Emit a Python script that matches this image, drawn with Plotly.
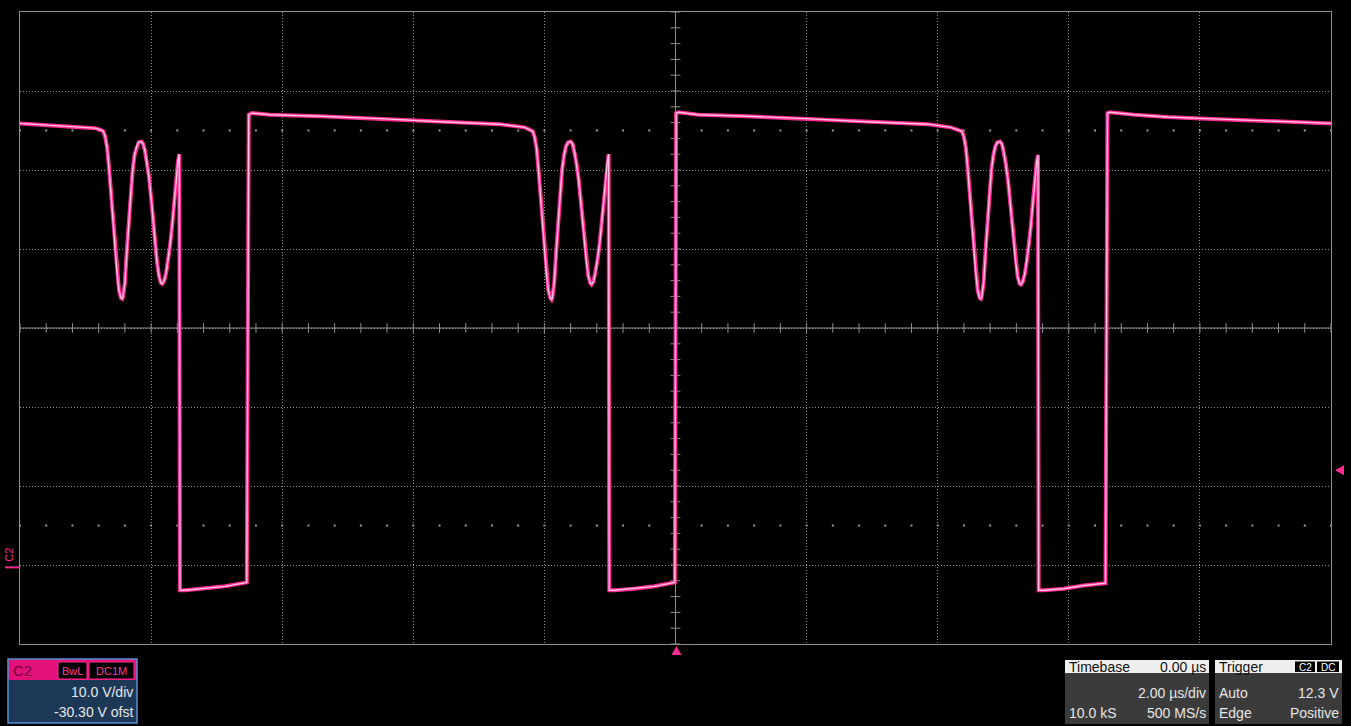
import numpy as np
import plotly.graph_objects as go

# ---------------- data (time in µs, voltage in V) ----------------
t_cycle1 = [-10.00, -9.62, -9.24, -8.86,
            -8.78, -8.73, -8.70, -8.67, -8.64, -8.61, -8.58, -8.55, -8.52, -8.49,
            -8.46, -8.44, -8.43, -8.40, -8.37, -8.34, -8.31, -8.28, -8.25, -8.22,
            -8.19, -8.15, -8.12, -8.09, -8.06, -8.03, -8.00, -7.97, -7.94, -7.91,
            -7.88, -7.85, -7.83, -7.80, -7.77, -7.74, -7.71, -7.68, -7.65, -7.62,
            -7.59, -7.57,
            -7.56, -7.48, -7.18, -6.87, -6.54,
            -6.51, -6.46, -6.19, -5.42, -4.51, -3.59, -2.68, -2.30]
v_cycle1 = [56.2, 56.0, 55.8, 55.6,
            55.4, 55.2, 54.5, 53.1, 50.4, 47.2, 43.8, 40.2, 37.3, 35.1,
            34.1, 34.0, 34.2, 36.0, 40.2, 43.8, 47.2, 50.4, 52.3, 53.3,
            53.8, 53.9, 53.6, 52.6, 51.2, 49.3, 46.8, 43.8, 41.1, 38.7,
            36.9, 36.0, 35.9, 36.3, 37.3, 38.9, 40.8, 43.2, 46.2, 49.1,
            51.4, 52.3,
            -2.9, -2.9, -2.7, -2.4, -1.9,
            57.3, 57.5, 57.3, 57.1, 56.8, 56.4, 56.1, 55.7]

t_cycle2 = [-2.23, -2.18, -2.15, -2.12, -2.09, -2.06, -2.03, -2.00, -1.97, -1.94,
            -1.91, -1.89, -1.88, -1.85, -1.82, -1.79, -1.76, -1.73, -1.70, -1.67,
            -1.64, -1.60, -1.57, -1.54, -1.51, -1.48, -1.45, -1.42, -1.39, -1.36,
            -1.33, -1.30, -1.28, -1.25, -1.22, -1.19, -1.16, -1.13, -1.10, -1.07,
            -1.04, -1.02,
            -1.01, -0.93, -0.63, -0.32, -0.01,
            0.01, 0.05, 0.35, 1.10, 2.00, 2.90, 3.85, 4.20]
v_cycle2 = [55.4, 55.2, 54.5, 53.1, 50.4, 47.2, 43.8, 40.2, 37.3, 35.1,
            34.1, 33.9, 34.1, 36.0, 40.0, 43.6, 47.0, 50.3, 52.2, 53.3,
            53.8, 53.9, 53.6, 52.6, 51.2, 49.3, 46.8, 43.8, 41.1, 38.7,
            36.9, 36.0, 35.8, 36.2, 37.3, 38.9, 40.8, 43.2, 46.2, 49.1,
            51.4, 52.3,
            -2.9, -2.9, -2.7, -2.4, -1.9,
            57.5, 57.6, 57.3, 57.1, 56.8, 56.4, 56.1, 55.7]

t_cycle3 = [4.32, 4.37, 4.40, 4.43, 4.46, 4.49, 4.52, 4.55, 4.58, 4.61,
            4.64, 4.66, 4.67, 4.70, 4.73, 4.76, 4.79, 4.82, 4.85, 4.88,
            4.91, 4.95, 4.98, 5.01, 5.04, 5.07, 5.10, 5.13, 5.16, 5.19,
            5.22, 5.25, 5.27, 5.30, 5.33, 5.36, 5.39, 5.42, 5.45, 5.48,
            5.51, 5.53,
            5.54, 5.62, 5.92, 6.23, 6.56,
            6.59, 6.63, 7.00, 7.50, 8.10, 8.80, 9.40, 10.00]
v_cycle3 = [55.4, 55.2, 54.5, 53.1, 50.4, 47.2, 43.8, 40.2, 37.3, 35.1,
            34.1, 34.0, 34.2, 36.0, 40.1, 43.7, 47.1, 50.3, 52.2, 53.3,
            53.8, 53.9, 53.6, 52.6, 51.1, 49.2, 46.7, 43.7, 41.0, 38.6,
            36.8, 35.9, 35.8, 36.2, 37.2, 38.8, 40.7, 43.1, 46.1, 49.0,
            51.3, 52.2,
            -2.9, -2.9, -2.7, -2.3, -2.0,
            57.5, 57.6, 57.3, 57.0, 56.8, 56.6, 56.4, 56.2]

time_us = t_cycle1 + t_cycle2 + t_cycle3
volts = v_cycle1 + v_cycle2 + v_cycle3

volts_per_div = 10.0
offset_v = -30.30
us_per_div = 2.0
trigger_level_v = 12.3
trigger_time_us = 0.0

# ---------------- layout geometry ----------------
W, H = 1351, 726
ML, MR, MT, MB = 20, 20, 12, 82
PW, PH = W - ML - MR, H - MT - MB

def X(px):
    return (px - ML) / PW

def Y(py):
    return (H - MB - py) / PH

center_v = -offset_v
y_lo = center_v - 4 * volts_per_div
y_hi = center_v + 4 * volts_per_div
x_lo, x_hi = -5 * us_per_div, 5 * us_per_div

# pixel helpers for data -> screen (used only to place the trigger glyphs)
def xpix(t):
    return ML + (t - x_lo) / (x_hi - x_lo) * PW

def ypix(v):
    return MT + (y_hi - v) / (y_hi - y_lo) * PH

GRID = '#8e8e8e'
PINK = '#ff2a90'
FONT = 'Liberation Sans, Arial, sans-serif'

fig = go.Figure()

# minor ticks on center cross
xt = np.arange(x_lo, x_hi + 1e-6, us_per_div / 5)
yt = np.arange(y_lo, y_hi + 1e-6, volts_per_div / 5)
fig.add_trace(go.Scatter(x=xt, y=[center_v] * len(xt), mode='markers',
                         marker=dict(symbol='line-ns', size=7, line=dict(width=1, color=GRID)),
                         hoverinfo='skip'))
fig.add_trace(go.Scatter(x=[trigger_time_us] * len(yt), y=yt, mode='markers',
                         marker=dict(symbol='line-ew', size=7, line=dict(width=1, color=GRID)),
                         hoverinfo='skip'))
# dotted rows at +/- 2.5 div
for yy in (center_v + 2.5 * volts_per_div, center_v - 2.5 * volts_per_div):
    fig.add_trace(go.Scatter(x=xt, y=[yy] * len(xt), mode='markers',
                             marker=dict(symbol='square', size=2, color='#9a9a9a'),
                             hoverinfo='skip'))

# waveform: pink glow + light core
fig.add_trace(go.Scatter(x=time_us, y=volts, mode='lines',
                         line=dict(color=PINK, width=4), hoverinfo='skip'))
fig.add_trace(go.Scatter(x=time_us, y=volts, mode='lines',
                         line=dict(color='#ffc2e0', width=1.4), hoverinfo='skip'))

shapes = []
# center cross lines
shapes.append(dict(type='line', xref='x', yref='y', x0=x_lo, x1=x_hi, y0=center_v, y1=center_v,
                   line=dict(color=GRID, width=1), layer='below'))
shapes.append(dict(type='line', xref='x', yref='y', x0=trigger_time_us, x1=trigger_time_us, y0=y_lo, y1=y_hi,
                   line=dict(color=GRID, width=1), layer='below'))

def tri_path(pts):
    return 'M ' + ' L '.join(f'{X(px):.6f},{Y(py):.6f}' for px, py in pts) + ' Z'

# trigger time marker (below the grid) and trigger level marker (right of the grid)
tx = xpix(trigger_time_us) + 1
shapes.append(dict(type='path', xref='paper', yref='paper',
                   path=tri_path([(tx, 646), (tx + 5, 655), (tx - 5, 655)]),
                   fillcolor=PINK, line=dict(width=0)))
ty = ypix(trigger_level_v)
shapes.append(dict(type='path', xref='paper', yref='paper',
                   path=tri_path([(1335, ty), (1344, ty - 5), (1344, ty + 5)]),
                   fillcolor=PINK, line=dict(width=0)))

def rect(x0, x1, y0, y1, fill, line=None, lw=0):
    return dict(type='rect', xref='paper', yref='paper', x0=X(x0), x1=X(x1), y0=Y(y1), y1=Y(y0),
                fillcolor=fill, line=dict(width=lw, color=line if line else fill))

# C2 channel box
shapes.append(rect(8, 137, 680, 723, '#1d3857'))
shapes.append(rect(8, 137, 659, 680, '#e3127a'))
shapes.append(rect(58, 87, 662, 679, '#000000', PINK, 1))
shapes.append(rect(89, 134, 662, 679, '#000000', PINK, 1))
shapes.append(dict(type='rect', xref='paper', yref='paper', x0=X(8), x1=X(137), y0=Y(723), y1=Y(659),
                   fillcolor='rgba(0,0,0,0)', line=dict(width=1.5, color='#5a90d0')))
# Timebase box
shapes.append(rect(1065, 1209, 673, 724, '#3b3b3b'))
shapes.append(rect(1065, 1209, 660, 673, '#efefef'))
# Trigger box
shapes.append(rect(1215, 1342, 673, 724, '#3b3b3b'))
shapes.append(rect(1215, 1342, 660, 673, '#efefef'))
shapes.append(rect(1295, 1315, 661.5, 672, '#000000', '#000000', 0))
shapes.append(rect(1317, 1339, 661.5, 672, '#000000', '#000000', 0))

ann = []
def txt(s, px, py, anchor='left', size=14, color='#e6e6e6'):
    ann.append(dict(text=s, xref='paper', yref='paper', x=X(px), y=Y(py), xanchor=anchor,
                    yanchor='middle', showarrow=False, font=dict(family=FONT, size=size, color=color)))

txt('C2', 11, 670, 'left', 15, '#7a0038')
txt('BwL', 72.5, 670.5, 'center', 11, '#ff3a95')
txt('DC1M', 111.5, 670.5, 'center', 11, '#ff3a95')
txt(f'{volts_per_div:.1f} V/div', 135, 692, 'right', 14)
txt(f'{offset_v:.2f} V ofst', 135, 712, 'right', 14)

txt('Timebase', 1067, 667, 'left', 14, '#111111')
txt('0.00 µs', 1208, 667, 'right', 14, '#111111')
txt(f'{us_per_div:.2f} µs/div', 1208, 693, 'right', 14)
txt('10.0 kS', 1067, 713, 'left', 14)
txt('500 MS/s', 1208, 713, 'right', 14)

txt('Trigger', 1217, 667, 'left', 14, '#111111')
txt('C2', 1305, 667, 'center', 10, '#ffffff')
txt('DC', 1328, 667, 'center', 10, '#ffffff')
txt('Auto', 1217, 693, 'left', 14)
txt(f'{trigger_level_v:.1f} V', 1341, 693, 'right', 14)
txt('Edge', 1217, 713, 'left', 14)
txt('Positive', 1341, 713, 'right', 14)

# channel ground marker on the left
ann.append(dict(text='C2', xref='paper', yref='y', x=X(9), y=1.6, xanchor='center', yanchor='middle',
                textangle=-90, showarrow=False, font=dict(family=FONT, size=11, color=PINK)))
shapes.append(dict(type='line', xref='paper', yref='y', x0=X(5), x1=X(19), y0=0, y1=0,
                   line=dict(color=PINK, width=2)))

axis_common = dict(showgrid=True, gridcolor=GRID, gridwidth=1, griddash='1px,2px',
                   showticklabels=False, ticks='', zeroline=False, showline=True,
                   linecolor=GRID, linewidth=1, mirror=True, fixedrange=True)

fig.update_layout(
    width=W, height=H, autosize=False,
    margin=dict(l=ML, r=MR, t=MT, b=MB, pad=0),
    paper_bgcolor='#000000', plot_bgcolor='#000000',
    showlegend=False, hovermode=False,
    xaxis=dict(range=[x_lo, x_hi], tick0=x_lo, dtick=us_per_div, **axis_common),
    yaxis=dict(range=[y_lo, y_hi], tick0=y_lo, dtick=volts_per_div, **axis_common),
    shapes=shapes, annotations=ann,
)

fig.write_html('out.html', config={'displayModeBar': False},
               post_script="document.body.style.margin='0';document.body.style.overflow='hidden';")
